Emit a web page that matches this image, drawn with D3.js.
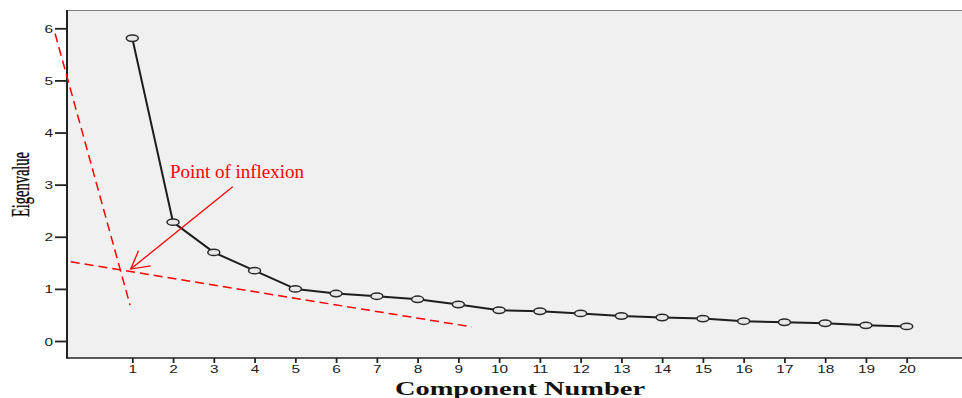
<!DOCTYPE html>
<html>
<head>
<meta charset="utf-8">
<script src="https://cdn.jsdelivr.net/npm/d3@7"></script>
<style>
  html, body { margin: 0; padding: 0; background: #fff; }
  svg { display: block; }
</style>
</head>
<body>
<svg id="chart" width="962" height="398"></svg>
<script>
// ---- Data ----
const components = [1,2,3,4,5,6,7,8,9,10,11,12,13,14,15,16,17,18,19,20];
const eigenvalues = [5.81,2.28,1.70,1.35,1.00,0.91,0.86,0.80,0.70,0.59,0.57,0.53,0.48,0.45,0.43,0.38,0.36,0.34,0.30,0.28];
const xTicks = components;
const yTicks = [0,1,2,3,4,5,6];
// annotation lines in data coordinates [component, eigenvalue]
const steepLine = [[-0.895, 5.90], [0.944, 0.69]];
const flatLine = [[-0.51, 1.52], [9.33, 0.27]];
const arrowLine = [[3.464, 2.96], [0.962, 1.381]];
const arrowBarbs = [[[1.15, 1.73], [0.962, 1.381], [1.45, 1.44]]];
const annotationText = "Point of inflexion";
const annotationPos = [1.926, 3.133];
const xTitle = "Component Number";
const yTitle = "Eigenvalue";

// ---- Layout ----
const svg = d3.select("#chart");
const plot = {left: 67, top: 10, right: 962, bottom: 358};
const x = d3.scaleLinear().domain([1, 20]).range([132.3, 906.7]);
const y = d3.scaleLinear().domain([0, 6]).range([341, 28.3]);
const sx = 1.4; // horizontal stretch of the original picture

// plot background
svg.append("rect")
  .attr("x", plot.left).attr("y", plot.top)
  .attr("width", plot.right - plot.left).attr("height", plot.bottom - plot.top)
  .attr("fill", "#f0f0f0");
// top frame line
svg.append("line")
  .attr("x1", plot.left).attr("x2", plot.right)
  .attr("y1", plot.top + 0.5).attr("y2", plot.top + 0.5)
  .attr("stroke", "#808080").attr("stroke-width", 1.2);

// x axis
const xAxis = svg.append("g").attr("transform", `translate(0,${plot.bottom})`)
  .call(d3.axisBottom(x).tickValues(xTicks).tickSize(5).tickFormat(d3.format("d")));
xAxis.select(".domain").remove();
xAxis.selectAll(".tick line").attr("stroke", "#222").attr("stroke-width", 1.8);
xAxis.selectAll(".tick text").each(function() {
  const t = d3.select(this);
  t.attr("y", null).attr("dy", null)
   .attr("transform", `translate(0,15) scale(${sx},1)`)
   .attr("font-family", "Liberation Sans, Arial, sans-serif")
   .attr("font-size", 11).attr("fill", "#1a1a1a");
});
svg.append("line")
  .attr("x1", plot.left).attr("x2", plot.right)
  .attr("y1", plot.bottom).attr("y2", plot.bottom)
  .attr("stroke", "#222").attr("stroke-width", 1.6);

// y axis
const yAxis = svg.append("g").attr("transform", `translate(${plot.left},0)`)
  .call(d3.axisLeft(y).tickValues(yTicks).tickSize(12).tickFormat(d3.format("d")));
yAxis.select(".domain").remove();
yAxis.selectAll(".tick line").attr("stroke", "#222").attr("stroke-width", 1.8);
yAxis.selectAll(".tick text").each(function() {
  const t = d3.select(this);
  t.attr("x", null).attr("dy", null)
   .attr("text-anchor", "end")
   .attr("transform", `translate(-14,4) scale(${sx},1)`)
   .attr("font-family", "Liberation Sans, Arial, sans-serif")
   .attr("font-size", 11).attr("fill", "#1a1a1a");
});
svg.append("line")
  .attr("x1", plot.left).attr("x2", plot.left)
  .attr("y1", plot.top).attr("y2", plot.bottom + 0.8)
  .attr("stroke", "#222").attr("stroke-width", 2);

// data line
const line = d3.line().x(d => x(d[0])).y(d => y(d[1]));
const pts = components.map((c, i) => [c, eigenvalues[i]]);
svg.append("path").datum(pts)
  .attr("d", line)
  .attr("fill", "none").attr("stroke", "#1e1e1e").attr("stroke-width", 2)
  .attr("stroke-linejoin", "round");
svg.append("g").selectAll("ellipse").data(pts).join("ellipse")
  .attr("cx", d => x(d[0])).attr("cy", d => y(d[1]))
  .attr("rx", 6).attr("ry", 3.2)
  .attr("fill", "#e8e8e8").attr("stroke", "#2a2a2a").attr("stroke-width", 1.5);

// annotations
const ann = svg.append("g");
[steepLine, flatLine].forEach(l => {
  ann.append("path").datum(l).attr("d", line)
    .attr("fill", "none").attr("stroke", "#ff0000").attr("stroke-width", 1.5)
    .attr("stroke-dasharray", "9,5");
});
ann.append("path").datum(arrowLine).attr("d", line)
  .attr("fill", "none").attr("stroke", "#ff0000").attr("stroke-width", 1.3);
arrowBarbs.forEach(b => {
  ann.append("path").datum(b).attr("d", line)
    .attr("fill", "none").attr("stroke", "#ff0000").attr("stroke-width", 1.3);
});
ann.append("text")
  .attr("x", x(annotationPos[0])).attr("y", y(annotationPos[1]))
  .attr("font-family", "Liberation Serif, Times New Roman, serif")
  .attr("font-size", 19).attr("fill", "#ff0000")
  .text(annotationText);

// axis titles
svg.append("text")
  .attr("transform", `translate(29,184.5) rotate(-90)`)
  .attr("text-anchor", "middle")
  .attr("font-family", "Liberation Serif, Times New Roman, serif")
  .attr("font-size", 26).attr("fill", "#000")
  .attr("stroke", "#000").attr("stroke-width", 0.3)
  .attr("textLength", 65).attr("lengthAdjust", "spacingAndGlyphs")
  .text(yTitle);
svg.append("text")
  .attr("x", 520).attr("y", 394.5)
  .attr("text-anchor", "middle")
  .attr("font-family", "Liberation Serif, Times New Roman, serif")
  .attr("font-weight", "bold")
  .attr("font-size", 18).attr("fill", "#111")
  .attr("textLength", 250).attr("lengthAdjust", "spacingAndGlyphs")
  .text(xTitle);
</script>
</body>
</html>
